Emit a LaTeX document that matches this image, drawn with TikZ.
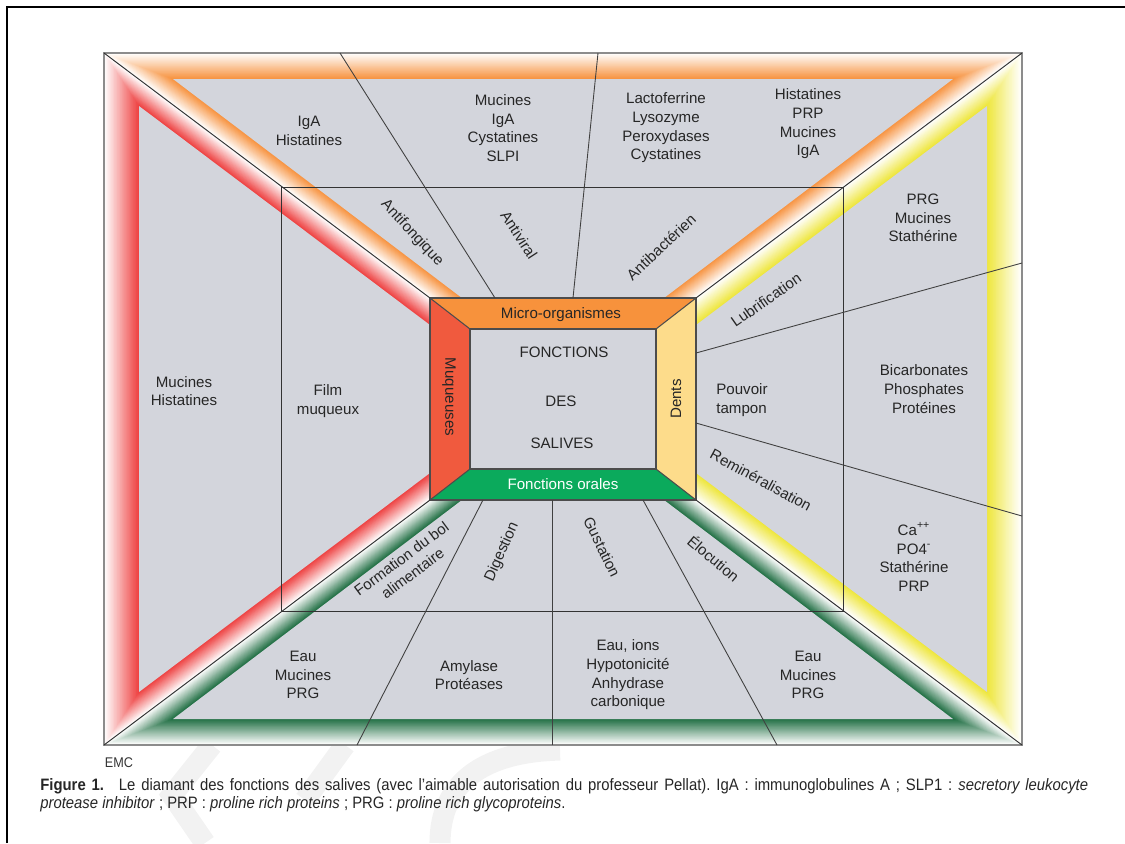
\documentclass[tikz,border=0pt]{standalone}
\usepackage{fontspec}
\setmainfont{Liberation Sans}
\newfontfamily\capfont[FakeStretch=0.9]{Liberation Sans}
\usetikzlibrary{calc}
\frenchspacing

\definecolor{salgray}{HTML}{D3D5DC}
\definecolor{bandorange}{HTML}{F7903A}
\definecolor{bandred}{HTML}{EE3A3A}
\definecolor{bandyellow}{HTML}{EEE635}
\definecolor{bandgreen}{HTML}{1A6B3E}
\definecolor{microfill}{HTML}{F7923C}
\definecolor{muqfill}{HTML}{F05A3E}
\definecolor{dentfill}{HTML}{FDDC8B}
\definecolor{oralfill}{HTML}{0BAA5C}

\begin{document}
\begin{tikzpicture}[x=0.02cm, y=-0.02cm,
    lbl/.style={font=\fontsize{8.6}{10.6}\selectfont, text=black!85, align=center, inner sep=0pt},
    rim/.style={draw=black!80, line width=0.55pt},
    spoke/.style={draw=black!75, line width=0.5pt},
    innerbox/.style={draw=black!70, line width=0.6pt},
    watermark/.style={draw=black!5, line width=12pt}
]
\useasboundingbox (0,0) rectangle (1125,843);

% page frame and watermark
\draw[line width=1pt] (7,843) -- (7,7) -- (1125,7);
\draw[watermark] (212,745) -- (172,795) -- (205,843);
\draw[watermark] (345,745) -- (305,800);
\draw[watermark] (440,843) .. controls (440,785) and (480,752) .. (560,750);

% corners of the four sectors (outer o, plain interior i)
\coordinate (t-o1) at (104,53);  \coordinate (t-o2) at (1022,53);
\coordinate (t-o3) at (696,298); \coordinate (t-o4) at (430,298);
\coordinate (t-i1) at (173,79);  \coordinate (t-i2) at (953,79);
\coordinate (t-i3) at (664,298); \coordinate (t-i4) at (462,298);

\coordinate (l-o1) at (104,53);  \coordinate (l-o2) at (430,298);
\coordinate (l-o3) at (430,500); \coordinate (l-o4) at (104,745);
\coordinate (l-i1) at (139,106); \coordinate (l-i2) at (430,325);
\coordinate (l-i3) at (430,473); \coordinate (l-i4) at (139,692);

\coordinate (r-o1) at (1022,53); \coordinate (r-o2) at (696,298);
\coordinate (r-o3) at (696,500); \coordinate (r-o4) at (1022,745);
\coordinate (r-i1) at (987,106); \coordinate (r-i2) at (696,325);
\coordinate (r-i3) at (696,473); \coordinate (r-i4) at (987,692);

\coordinate (b-o1) at (104,745); \coordinate (b-o2) at (430,500);
\coordinate (b-o3) at (696,500); \coordinate (b-o4) at (1022,745);
\coordinate (b-i1) at (173,719); \coordinate (b-i2) at (462,500);
\coordinate (b-i3) at (664,500); \coordinate (b-i4) at (953,719);

% graded rims, white outside, full colour inside
\foreach \s/\c in {t/bandorange, l/bandred, r/bandyellow, b/bandgreen}{
  \foreach \k in {0,...,24}{
    \pgfmathtruncatemacro{\p}{100*\k/24}
    \pgfmathsetmacro{\f}{\k/24}
    \fill[\c!\p!white] ($(\s-o1)!\f!(\s-i1)$) -- ($(\s-o2)!\f!(\s-i2)$)
      -- ($(\s-o3)!\f!(\s-i3)$) -- ($(\s-o4)!\f!(\s-i4)$) -- cycle;
  }
  \fill[salgray] (\s-i1) -- (\s-i2) -- (\s-i3) -- (\s-i4) -- cycle;
}

% central box
\coordinate (mo-nw) at (430,298); \coordinate (mo-ne) at (696,298);
\coordinate (mo-se) at (696,500); \coordinate (mo-sw) at (430,500);
\coordinate (mi-nw) at (470,329); \coordinate (mi-ne) at (656,329);
\coordinate (mi-se) at (656,469); \coordinate (mi-sw) at (470,469);

\fill[microfill] (mo-nw) -- (mo-ne) -- (mi-ne) -- (mi-nw) -- cycle;
\fill[muqfill] (mo-nw) -- (mi-nw) -- (mi-sw) -- (mo-sw) -- cycle;
\fill[dentfill] (mo-ne) -- (mo-se) -- (mi-se) -- (mi-ne) -- cycle;
\fill[oralfill] (mo-sw) -- (mi-sw) -- (mi-se) -- (mo-se) -- cycle;
\fill[salgray] (mi-nw) rectangle (mi-se);
\draw[innerbox] (mo-nw) rectangle (mo-se);
\draw[innerbox] (mi-nw) rectangle (mi-se);
\draw[innerbox] (mo-nw) -- (mi-nw) (mo-ne) -- (mi-ne) (mo-se) -- (mi-se) (mo-sw) -- (mi-sw);

% outline, diagonals, middle frame
\draw[draw=black!45, line width=0.9pt] (t-o1) rectangle (r-o4);
\draw[rim] (t-o1) -- (mo-nw);
\draw[rim] (t-o2) -- (mo-ne);
\draw[rim] (b-o1) -- (mo-sw);
\draw[rim] (b-o4) -- (mo-se);
\coordinate (mid-nw) at (281,187);
\coordinate (mid-se) at (843,611);
\draw[rim] (mid-nw) rectangle (mid-se);

% spokes
\coordinate (sp1a) at (340,53);   \coordinate (sp1b) at (495,298);
\coordinate (sp2a) at (598,53);   \coordinate (sp2b) at (573,298);
\coordinate (sp3a) at (1022,263); \coordinate (sp3b) at (696,353);
\coordinate (sp4a) at (1022,516); \coordinate (sp4b) at (696,423);
\coordinate (sp5a) at (357,745);  \coordinate (sp5b) at (483,500);
\coordinate (sp6a) at (552,745);  \coordinate (sp6b) at (552,500);
\coordinate (sp7a) at (777,745);  \coordinate (sp7b) at (643,500);
\foreach \n in {1,...,7}
  \draw[spoke] (sp\n a) -- (sp\n b);

% top sector
\node[lbl] (igaHist) at (309,131) {IgA\\Histatines};
\node[lbl] (mucIga) at (503,128) {Mucines\\IgA\\Cystatines\\SLPI};
\node[lbl] (lacto) at (666,128) {Lactoferrine\\Lysozyme\\Peroxydases\\Cystatines};
\node[lbl] (histPrp) at (808,124) {Histatines\\PRP\\Mucines\\IgA};
\node[lbl, rotate=-47] (antifong) at (412,233) {Antifongique};
\node[lbl, rotate=-57] (antivir) at (519,235) {Antiviral};
\node[lbl, rotate=43] (antibact) at (661,247) {Antibactérien};

% right sector
\node[lbl] (prgMuc) at (923,218) {PRG\\Mucines\\Stathérine};
\node[lbl, rotate=35] (lubri) at (766,300) {Lubrification};
\node[lbl, anchor=west, align=left] (pouvoir) at (716,400) {Pouvoir\\tampon};
\node[lbl] (bicarb) at (924,389) {Bicarbonates\\Phosphates\\Protéines};
\node[lbl, rotate=-28.5] (remin) at (761,480) {Reminéralisation};
\node[lbl] (calcium) at (914,557) {Ca\textsuperscript{++}\\PO4\textsuperscript{-}\\Stathérine\\PRP};

% left sector
\node[lbl] (mucHist) at (184,391) {Mucines\\Histatines};
\node[lbl] (film) at (328,401) {Film\\muqueux};

% bottom sector
\node[lbl, rotate=36.6] (bol) at (407,566) {Formation du bol\\alimentaire};
\node[lbl, rotate=66] (digest) at (502,552) {Digestion};
\node[lbl, rotate=-64] (gust) at (602,547) {Gustation};
\node[lbl, rotate=-40] (elocu) at (714,558) {Élocution};
\node[lbl] (eauL) at (303,675) {Eau\\Mucines\\PRG};
\node[lbl] (amyl) at (469,675) {Amylase\\Protéases};
\node[lbl] (eauIons) at (628,675) {Eau, ions\\Hypotonicité\\Anhydrase\\carbonique};
\node[lbl] (eauR) at (808,675) {Eau\\Mucines\\PRG};

% central box labels
\node[lbl] (micro) at (561,315) {Micro-organismes};
\node[lbl] (fonc) at (564,352) {FONCTIONS};
\node[lbl] (des) at (561,401) {DES};
\node[lbl] (sal) at (562,443) {SALIVES};
\node[lbl, rotate=-90] (muq) at (449,397) {Muqueuses};
\node[lbl, rotate=90] (dents) at (676,399) {Dents};
\node[lbl, text=white] (orales) at (563,484) {Fonctions orales};

% logo and caption
\node[font=\capfont\fontsize{8}{8}\selectfont, text=black!80, inner sep=0pt] (emc) at (119,763) {EMC};
\node[anchor=north west, inner sep=0pt, text width=20.96cm, align=justify,
      font=\capfont\fontsize{9.4}{10.4}\selectfont, text=black!85] (caption) at (40,778)
  {{\bfseries Figure 1.}\hspace{0.9em}Le diamant des fonctions des salives (avec l’aimable autorisation du professeur Pellat). IgA : immunoglobulines A ; SLP1 : \textit{secretory leukocyte}\linebreak
   \textit{protease inhibitor} ; PRP : \textit{proline rich proteins} ; PRG : \textit{proline rich glycoproteins}.};

\end{tikzpicture}
\end{document}
